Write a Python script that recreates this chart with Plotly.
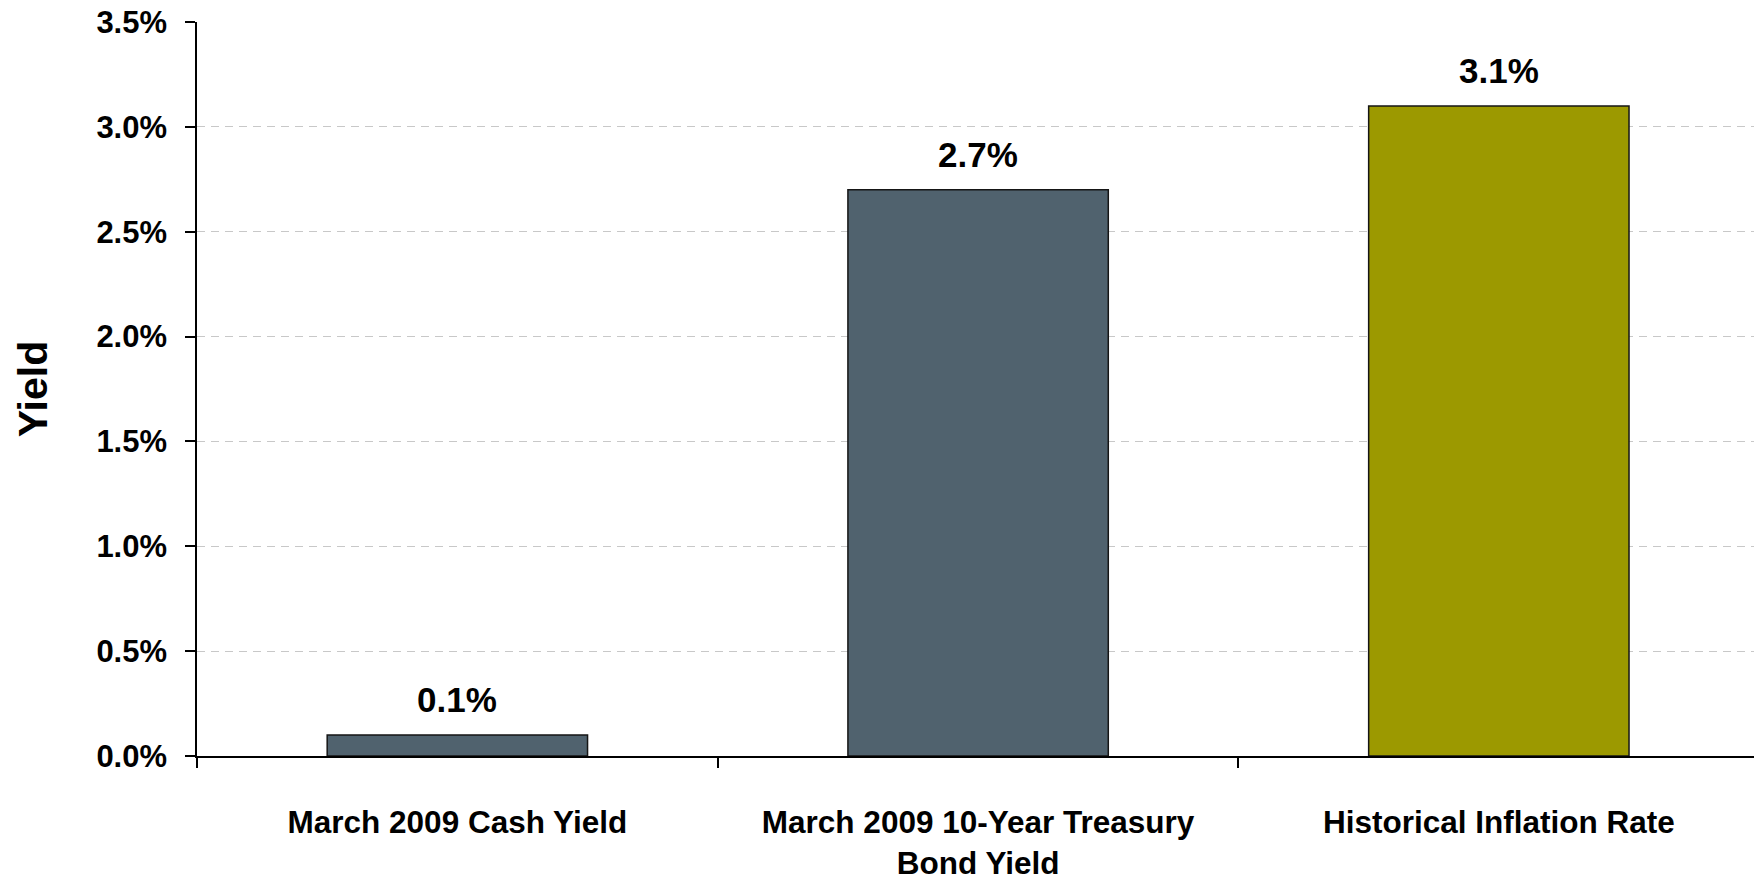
import plotly.graph_objects as go

# Yield comparison data
categories = [
    "March 2009 Cash Yield",
    "March 2009 10-Year Treasury<br>Bond Yield",
    "Historical Inflation Rate",
]
yields = [0.1, 2.7, 3.1]
bar_colors = ["#50626E", "#50626E", "#9C9900"]
y_tick_vals = [0.0, 0.5, 1.0, 1.5, 2.0, 2.5, 3.0, 3.5]
y_tick_text = [f"{v:.1f}%" for v in y_tick_vals]

FONT = "Liberation Sans, Arial, Helvetica, sans-serif"

fig = go.Figure(
    go.Bar(
        x=categories,
        y=yields,
        marker=dict(color=bar_colors, line=dict(color="#151515", width=1.5)),
        width=0.5,
        hoverinfo="skip",
    )
)

# value labels above each bar
for cat, val in zip(categories, yields):
    fig.add_annotation(
        x=cat,
        y=val,
        text=f"<b>{val:.1f}%</b>",
        showarrow=False,
        yanchor="bottom",
        yshift=14,
        font=dict(family=FONT, size=35, color="#000000"),
    )

fig.update_layout(
    width=1754,
    height=877,
    margin=dict(l=197, r=0, t=22, b=121),
    paper_bgcolor="white",
    plot_bgcolor="white",
    showlegend=False,
    font=dict(family=FONT, color="#000000"),
    xaxis=dict(
        type="category",
        tickson="boundaries",
        ticks="outside",
        ticklen=10,
        tickwidth=1.5,
        tickcolor="#000000",
        showline=True,
        linecolor="#000000",
        linewidth=1.5,
        showgrid=False,
        tickfont=dict(family=FONT, size=31.5, color="#000000", weight="bold"),
        ticklabelstandoff=37,
        range=[-0.5, 2.49],
        automargin=False,
    ),
    yaxis=dict(
        range=[0, 3.5],
        tickvals=y_tick_vals,
        ticktext=y_tick_text,
        ticks="outside",
        ticklen=10,
        tickwidth=1.5,
        tickcolor="#000000",
        showline=True,
        linecolor="#000000",
        linewidth=1.5,
        showgrid=True,
        gridcolor="#C8C8C8",
        gridwidth=1,
        griddash="8px,6px",
        zeroline=False,
        tickfont=dict(family=FONT, size=31, color="#000000", weight="bold"),
        ticklabelstandoff=12,
        title=dict(
            text="<b>Yield</b>",
            font=dict(family=FONT, size=41, color="#000000"),
            standoff=36,
        ),
        automargin=False,
    ),
)

fig.write_html("out.html")
